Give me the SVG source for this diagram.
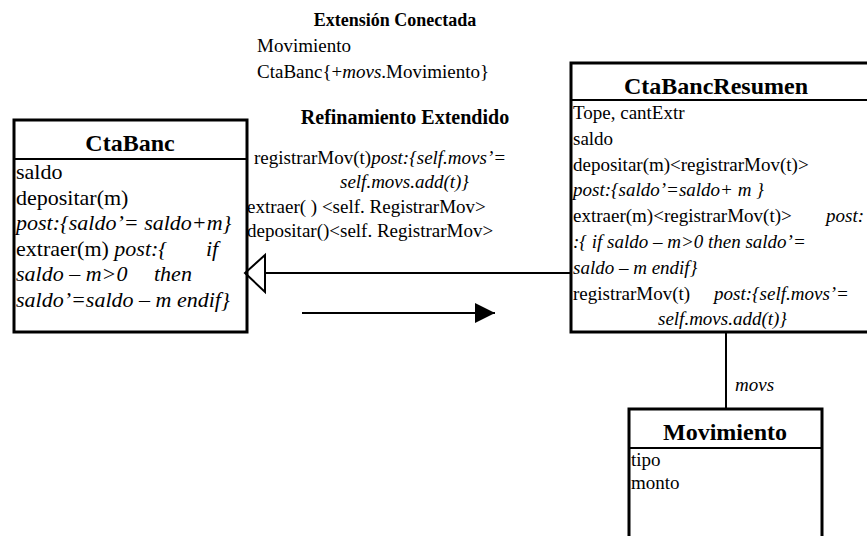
<svg xmlns="http://www.w3.org/2000/svg" width="867" height="536" viewBox="0 0 867 536">
<style>
text{font-family:"Liberation Serif","Times New Roman",serif;fill:#000;font-size:19px}
.b{font-size:22px}
.t{font-weight:bold;font-size:24px;text-anchor:middle}
.h{font-weight:bold;font-size:18px;text-anchor:middle}
.h2{font-weight:bold;font-size:20px;text-anchor:middle}
.i{font-style:italic}
.box{fill:#fff;stroke:#000;stroke-width:3}
.ln{stroke:#000;stroke-width:2;fill:none}
</style>
<defs>
<marker id="tri" markerWidth="22" markerHeight="22" refX="20" refY="10" orient="auto" markerUnits="userSpaceOnUse">
<path d="M0,0 L20,10 L0,20 z" fill="#000"/>
</marker>
</defs>
<g id="labels">
<text class="h" x="395" y="26">Extensión Conectada</text>
<text x="257" y="52">Movimiento</text>
<text x="257" y="78">CtaBanc{+<tspan class="i">movs</tspan>.Movimiento}</text>
<text class="h2" x="405" y="124">Refinamiento Extendido</text>
<text x="254" y="164">registrarMov(t)<tspan class="i">post:{self.movs’=</tspan></text>
<text class="i" x="340" y="188">self.movs.add(t)}</text>
<text x="247" y="213">extraer( ) &lt;self. RegistrarMov&gt;</text>
<text x="247" y="237">depositar()&lt;self. RegistrarMov&gt;</text>
</g>
<g id="CtaBanc">
<rect class="box" x="14" y="120" width="233" height="212"/>
<line class="ln" x1="14" y1="159" x2="247" y2="159"/>
<text class="t" x="130" y="151">CtaBanc</text>
<text class="b" x="16" y="179">saldo</text>
<text class="b" x="16" y="204.5">depositar(m)</text>
<text class="b i" x="16" y="230">post:{saldo’= saldo+m}</text>
<text class="b" x="16" y="255.5">extraer(m) <tspan class="i">post:{</tspan><tspan class="i" x="206">if</tspan></text>
<text class="b i" x="16" y="281">saldo – m&gt;0 <tspan x="154">then</tspan></text>
<text class="b i" x="16" y="306.5">saldo’=saldo – m endif}</text>
</g>
<g id="CtaBancResumen">
<rect class="box" x="571" y="63" width="310" height="269"/>
<line class="ln" x1="571" y1="100" x2="881" y2="100"/>
<text class="t" x="716" y="94">CtaBancResumen</text>
<text x="573" y="119">Tope, cantExtr</text>
<text x="573" y="145">saldo</text>
<text x="573" y="171">depositar(m)&lt;registrarMov(t)&gt;</text>
<text class="i" x="573" y="196">post:{saldo’=saldo+ m }</text>
<text x="573" y="222">extraer(m)&lt;registrarMov(t)&gt; <tspan class="i" x="826">post:</tspan></text>
<text class="i" x="573" y="248">:{ if saldo – m&gt;0 then saldo’=</text>
<text class="i" x="573" y="274">saldo – m endif}</text>
<text x="573" y="300">registrarMov(t) <tspan class="i" x="714">post:{self.movs’=</tspan></text>
<text class="i" x="658" y="325">self.movs.add(t)}</text>
</g>
<g id="Movimiento">
<rect class="box" x="629" y="409" width="193" height="140"/>
<line class="ln" x1="629" y1="448" x2="822" y2="448"/>
<text class="t" x="725" y="440">Movimiento</text>
<text x="631" y="466">tipo</text>
<text x="631" y="489">monto</text>
</g>
<g id="connectors">
<line class="ln" x1="571" y1="273" x2="265" y2="273"/>
<path class="ln" d="M265,255 L245,273 L265,292 Z" fill="#fff"/>
<line class="ln" x1="302" y1="313" x2="495" y2="313" marker-end="url(#tri)"/>
<line class="ln" x1="726" y1="332" x2="726" y2="409"/>
<text class="i" x="735" y="391">movs</text>
</g>
</svg>
